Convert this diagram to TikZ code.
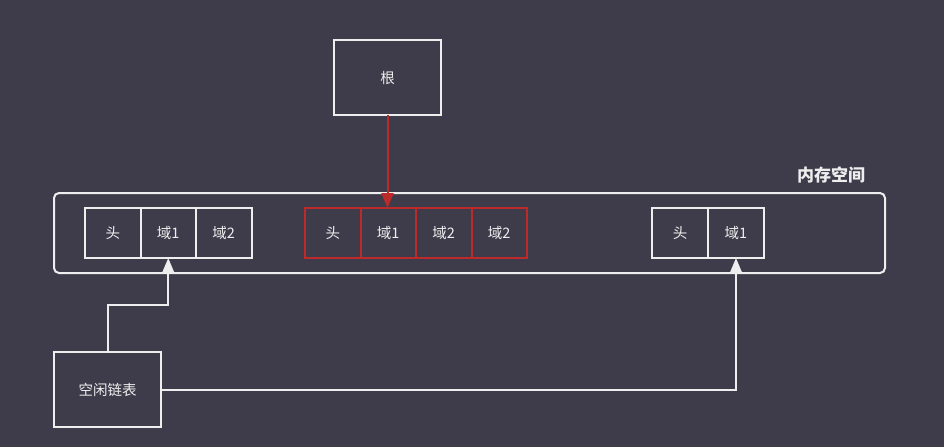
\documentclass[tikz,border=0pt]{standalone}
\usepackage{fontspec}
\newfontfamily\cjk{Noto Sans CJK SC}
\usetikzlibrary{arrows.meta}
\definecolor{bg}{RGB}{62,60,74}
\definecolor{wline}{RGB}{238,238,238}
\definecolor{rline}{RGB}{188,42,42}
\tikzset{
  cell/.style={draw=wline, line width=2pt, minimum width=55.5pt, minimum height=50pt,
    inner sep=0pt, outer sep=0pt, text=wline, font=\cjk\fontsize{14.5}{16}\selectfont},
  redcell/.style={cell, draw=rline},
  bigbox/.style={cell, minimum width=107pt, minimum height=75pt},
  wire/.style={draw=wline, line width=2pt, -{Triangle[length=15pt,width=12pt]}}
}
\begin{document}
\begin{tikzpicture}[x=1pt,y=-1pt]
\fill[bg] (0,0) rectangle (944,447);
\useasboundingbox (0,0) rectangle (944,447);
% memory space
\node[draw=wline, line width=2pt, rounded corners=5pt, minimum width=831pt, minimum height=80pt] (mem) at (469.5,233) {};
\node[text=wline, font=\cjk\bfseries\fontsize{17}{19}\selectfont] (memlabel) at (831,175) {内存空间};
% blocks
\node[cell] (a1) at (112.75,233) {头};
\node[cell] (a2) at (168.25,233) {域1};
\node[cell] (a3) at (223.75,233) {域2};
\node[redcell] (b1) at (332.75,233) {头};
\node[redcell] (b2) at (388.25,233) {域1};
\node[redcell] (b3) at (443.75,233) {域2};
\node[redcell] (b4) at (499.25,233) {域2};
\node[cell] (c1) at (680,233) {头};
\node[cell] (c2) at (736,233) {域1};
% root and free list
\node[bigbox] (root) at (387.5,77.5) {根};
\node[bigbox] (free) at (107.5,389.5) {空闲链表};
\draw[wire, draw=rline] (root.south) -- (root.south |- b2.north);
\coordinate (bend) at (107.5,305);
\draw[wire] (free.north) -- (bend) -| (a2.south);
\draw[wire] (free.east) -| (c2.south);
\end{tikzpicture}
\end{document}
